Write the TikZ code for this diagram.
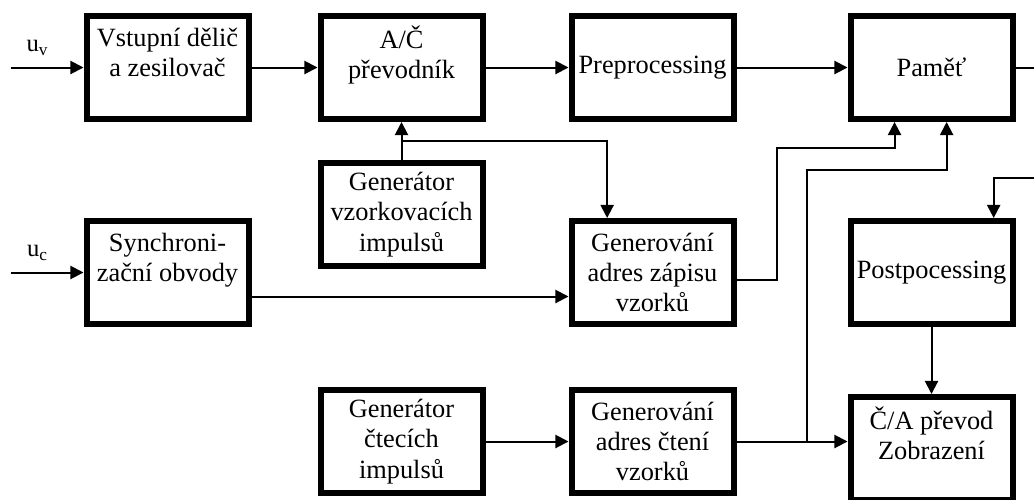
\documentclass[tikz,border=0pt]{standalone}
\usepackage{fontspec}
\setmainfont{Liberation Serif}
\usetikzlibrary{arrows.meta, positioning, calc}

\begin{document}
\begin{tikzpicture}[
	node distance=1.32cm,
	every node/.style={font=\fontsize{15}{17.3}\selectfont},
	block/.style={
		rectangle, draw, line width=0.12cm,
		minimum width=3.24cm, minimum height=2.06cm, inner sep=1pt, align=center
	},
	arrow/.style={-{Triangle[length=7.5pt, width=7.5pt]}, line width=0.04cm},
	line/.style={line width=0.04cm},
	signal/.style={font=\fontsize{14}{16}\selectfont}
	]

	\useasboundingbox (0,0) rectangle (20.68,-9.98);

	% Nodes
	\node[block] (input) at (3.35,-1.35) {Vstupní dělič\\ a zesilovač\\ \mbox{}};
	\node[block, right=of input] (converter) {A/Č\\ převodník\\ \mbox{}};
	\node[block, right=1.66cm of converter] (pre) {Preprocessing};
	\node[block, right=2.22cm of pre] (memory) {Paměť};
	\node[block, below=0.76cm of converter] (sampler) {Generátor\\ vzorkovacích\\ impulsů};
	\node[block, below=1.92cm of input] (sync) {Synchroni-\\ zační obvody\\ \mbox{}};
	\node[block, below=1.92cm of pre] (writeaddr) {Generování\\ adres zápisu\\ vzorků};
	\node[block, below=1.92cm of memory] (post) {Postpocessing};
	\node[block, below=1.2cm of writeaddr] (readaddr) {Generování\\ adres čtení\\ vzorků};
	\node[block, left=1.66cm of readaddr] (reader) {Generátor\\ čtecích\\ impulsů};
	\node[block, below=1.34cm of post] (dac) {Č/A převod\\ Zobrazení\\ \mbox{}};

	% Free ends and entry points
	\coordinate[left=1.46cm of input.west] (uv);
	\coordinate[left=1.46cm of sync.west] (uc);
	\coordinate (edge) at (20.68,-3.56);
	\coordinate (wr) at ($(memory.south west)!0.28!(memory.south east)$);
	\coordinate (rd) at ($(memory.south west)!0.59!(memory.south east)$);

	% Arrows
	\draw[arrow] (uv) -- node[signal, above=0.1cm, pos=0.37] {u\textsubscript{v}} (input);
	\draw[arrow] (input) -- (converter);
	\draw[arrow] (converter) -- (pre);
	\draw[arrow] (pre) -- (memory);
	\draw[line] (memory) -- (memory.east -| edge);
	\draw[arrow] (sampler) -- (converter);
	\draw[arrow] ($(converter.south)!0.5!(sampler.north)$) -| ($(writeaddr.north west)!0.23!(writeaddr.north east)$);
	\draw[arrow] (uc) -- node[signal, above=0.1cm, pos=0.37] {u\textsubscript{c}} (sync);
	\draw[arrow] ([yshift=-0.48cm]sync.east) -- ([yshift=-0.48cm]writeaddr.west);
	\draw[arrow] ([yshift=-0.14cm]writeaddr.east) -- ++(0.8,0) |- ([yshift=-0.52cm]wr) -- (wr);
	\draw[arrow] (reader) -- (readaddr);
	\draw[arrow] (readaddr) -- (readaddr.east -| dac.west);
	\draw[arrow] ([xshift=1.4cm]readaddr.east) |- ([yshift=-0.96cm]rd) -- (rd);
	\draw[arrow] (edge) -| ($(post.north west)!0.87!(post.north east)$);
	\draw[arrow] (post) -- (dac);
\end{tikzpicture}
\end{document}
